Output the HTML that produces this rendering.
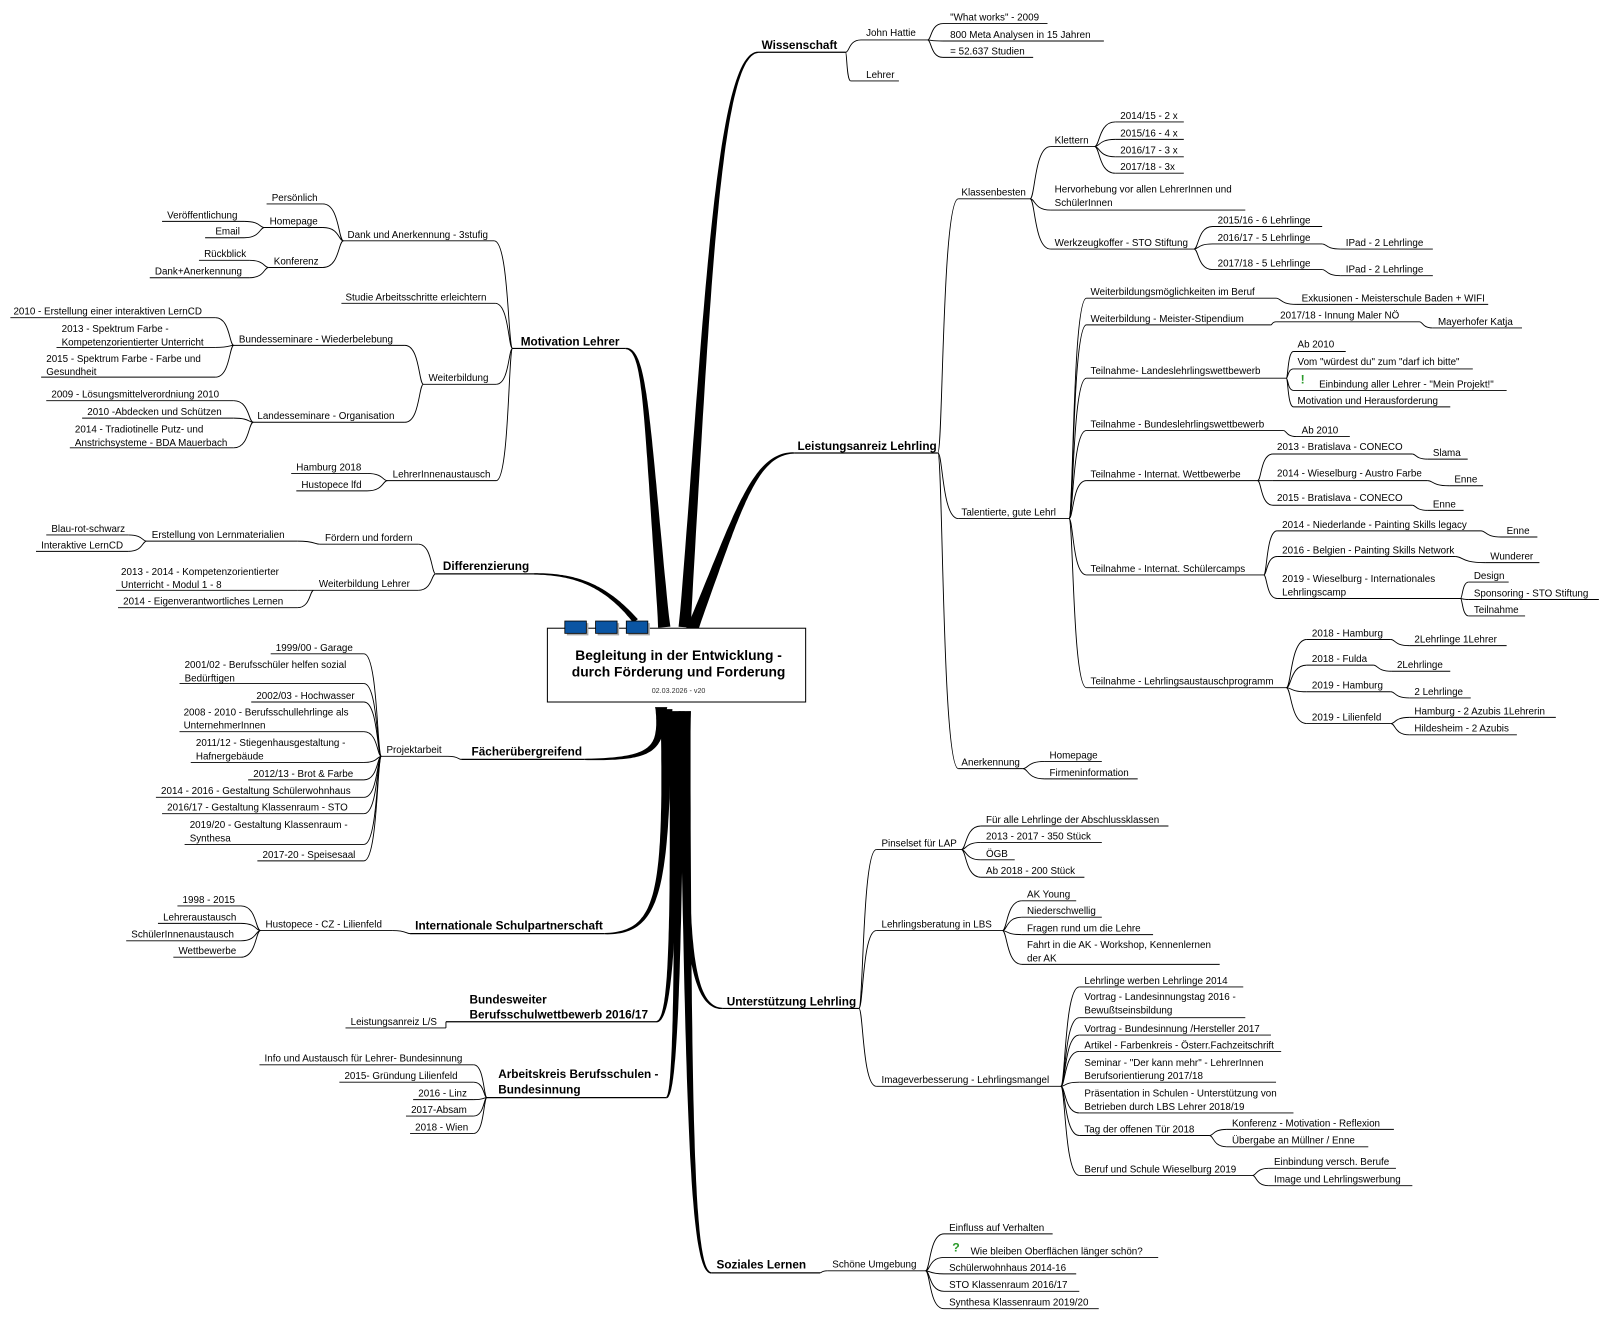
<!DOCTYPE html>
<html><head><meta charset="utf-8"><style>
html,body{margin:0;padding:0;background:#fff}
svg{display:block}
text{font-family:"Liberation Sans",Arial,sans-serif;fill:#000}
.n{font-size:9.6px}
.m{font-size:11.5px;font-weight:bold}
</style></head><body>
<svg id="s" width="1599" height="1321" viewBox="0 0 1560 1289" xmlns="http://www.w3.org/2000/svg">
<g id="br"></g><g id="ln" fill="none" stroke="#000" stroke-width="0.9"></g><g id="tx"></g>
<rect x="534" y="613" width="252" height="72" fill="#fff" stroke="#000" stroke-width="1"/>
<rect x="553" y="608" width="21" height="12" fill="#aaa"/><rect x="551" y="606" width="21" height="12" fill="#0b55a3" stroke="#000" stroke-width="0.8"/>
<rect x="583" y="608" width="21" height="12" fill="#aaa"/><rect x="581" y="606" width="21" height="12" fill="#0b55a3" stroke="#000" stroke-width="0.8"/>
<rect x="613" y="608" width="21" height="12" fill="#aaa"/><rect x="611" y="606" width="21" height="12" fill="#0b55a3" stroke="#000" stroke-width="0.8"/>
<text x="662" y="644" text-anchor="middle" style="font-size:13.5px;font-weight:bold">Begleitung in der Entwicklung -</text>
<text x="662" y="660" text-anchor="middle" style="font-size:13.5px;font-weight:bold">durch Förderung und Forderung</text>
<text x="662" y="676" text-anchor="middle" style="font-size:7px;fill:#333">02.03.2026 - v20</text>
<text x="1269" y="374" style="font-size:12px;font-weight:bold;fill:#2a9a2a">!</text>
<text x="929" y="1221" style="font-size:12px;font-weight:bold;fill:#2a9a2a">?</text>
</svg>
<script>
var N={};
// id,parent,text,tx,ty,x1,x2,uy,main
var D=[
["W",null,"Wissenschaft",743,48,740,825,51,1],
["LA",null,"Leistungsanreiz Lehrling",778,439,775,915,442,1],
["UL",null,"Unterstützung Lehrling",709,981,705,838,984,1],
["SL",null,"Soziales Lernen",699,1238,694,800,1242,1],
["ML",null,"Motivation Lehrer",508,337,500,610,340,1],
["DI",null,"Differenzierung",432,556,425,520,560,1],
["FU",null,"Fächerübergreifend",460,737,450,570,741,1],
["IS",null,"Internationale Schulpartnerschaft",405,907,400,590,911,1],
["BW",null,"Bundesweiter|Berufsschulwettbewerb 2016/17",458,979,435,640,997,1],
["AK",null,"Arbeitskreis Berufsschulen -|Bundesinnung",486,1052,475,650,1071,1],
["jh","W","John Hattie",845,35,840,905,39],
["w1","jh","\"What works\" - 2009",927,20,920,1022,23],
["w2","jh","800 Meta Analysen in 15 Jahren",927,37,920,1077,40],
["w3","jh","= 52.637 Studien",927,53,920,1008,56],
["le","W","Lehrer",845,76,830,877,79],
["kb","LA","Klassenbesten",938,191,935,1005,194],
["kl","kb","Klettern",1029,140,1025,1068,143],
["k1","kl","2014/15 - 2 x",1093,116,1088,1155,119],
["k2","kl","2015/16 - 4 x",1093,133,1088,1155,136],
["k3","kl","2016/17 - 3 x",1093,150,1088,1155,153],
["k4","kl","2017/18 - 3x",1093,166,1088,1155,169],
["hv","kb","Hervorhebung vor allen LehrerInnen und|SchülerInnen",1029,188,1025,1215,205],
["wk","kb","Werkzeugkoffer - STO Stiftung",1029,240,1025,1165,243],
["wk1","wk","2015/16 - 6 Lehrlinge",1188,218,1183,1290,221],
["wk2","wk","2016/17 - 5 Lehrlinge",1188,235,1183,1290,238],
["ip1","wk2","IPad - 2 Lehrlinge",1313,240,1308,1398,243],
["wk3","wk","2017/18 - 5 Lehrlinge",1188,260,1183,1290,263],
["ip2","wk3","IPad - 2 Lehrlinge",1313,266,1308,1398,269],
["tg","LA","Talentierte, gute Lehrl",938,503,935,1043,506],
["t1","tg","Weiterbildungsmöglichkeiten im Beruf",1064,288,1060,1245,291],
["t1a","t1","Exkusionen - Meisterschule Baden + WIFI",1270,294,1265,1452,297],
["t2","tg","Weiterbildung - Meister-Stipendium",1064,314,1060,1240,317],
["t2a","t2","2017/18 - Innung Maler NÖ",1249,311,1245,1385,314],
["t2b","t2a","Mayerhofer Katja",1403,317,1398,1485,320],
["t3","tg","Teilnahme- Landeslehrlingswettbewerb",1064,365,1060,1255,369],
["t3a","t3","Ab 2010",1266,339,1262,1313,343],
["t3b","t3","Vom \"würdest du\" zum \"darf ich bitte\"",1266,356,1262,1437,360],
["t3c","t3","Einbindung aller Lehrer - \"Mein Projekt!\"",1287,378,1262,1470,381],
["t3d","t3","Motivation und Herausforderung",1266,394,1262,1415,397],
["t4","tg","Teilnahme - Bundeslehrlingswettbewerb",1064,417,1060,1252,420],
["t4a","t4","Ab 2010",1270,423,1265,1317,426],
["t5","tg","Teilnahme - Internat. Wettbewerbe",1064,466,1060,1227,469],
["t5a","t5","2013 - Bratislava - CONECO",1246,439,1242,1378,443],
["t5a1","t5a","Slama",1398,445,1393,1432,448],
["t5b","t5","2014 - Wieselburg - Austro Farbe",1246,465,1242,1393,469],
["t5b1","t5b","Enne",1419,471,1414,1447,474],
["t5c","t5","2015 - Bratislava - CONECO",1246,489,1242,1378,493],
["t5c1","t5c","Enne",1398,495,1393,1428,498],
["t6","tg","Teilnahme - Internat. Schülercamps",1064,558,1060,1233,561],
["t6a","t6","2014 - Niederlande - Painting Skills legacy",1251,515,1246,1445,518],
["t6a1","t6a","Enne",1470,521,1465,1500,524],
["t6b","t6","2016 - Belgien - Painting Skills Network",1251,540,1246,1420,543],
["t6b1","t6b","Wunderer",1454,546,1449,1502,549],
["t6c","t6","2019 - Wieselburg - Internationales|Lehrlingscamp",1251,568,1246,1425,584],
["t6c1","t6c","Design",1438,565,1433,1472,568],
["t6c2","t6c","Sponsoring - STO Stiftung",1438,582,1433,1560,585],
["t6c3","t6c","Teilnahme",1438,598,1433,1488,601],
["t7","tg","Teilnahme - Lehrlingsaustauschprogramm",1064,668,1060,1255,671],
["t7a","t7","2018 - Hamburg",1280,621,1275,1357,624],
["t7a1","t7a","2Lehrlinge 1Lehrer",1380,627,1375,1470,630],
["t7b","t7","2018 - Fulda",1280,646,1275,1340,649],
["t7b1","t7b","2Lehrlinge",1363,652,1358,1415,655],
["t7c","t7","2019 - Hamburg",1280,672,1275,1357,675],
["t7c1","t7c","2 Lehrlinge",1380,678,1375,1435,681],
["t7d","t7","2019 - Lilienfeld",1280,703,1275,1357,706],
["t7d1","t7d","Hamburg - 2 Azubis 1Lehrerin",1380,697,1375,1518,700],
["t7d2","t7d","Hildesheim - 2 Azubis",1380,714,1375,1480,717],
["an","LA","Anerkennung",938,747,935,998,750],
["an1","an","Homepage",1024,740,1019,1075,743],
["an2","an","Firmeninformation",1024,757,1019,1110,760],
["ps","UL","Pinselset für LAP",860,826,855,938,829],
["ps1","ps","Für alle Lehrlinge der Abschlussklassen",962,803,957,1140,806],
["ps2","ps","2013 - 2017 - 350 Stück",962,819,957,1075,822],
["ps3","ps","ÖGB",962,836,957,990,839],
["ps4","ps","Ab 2018 - 200 Stück",962,853,957,1058,856],
["lb","UL","Lehrlingsberatung in LBS",860,905,855,978,908],
["lb1","lb","AK Young",1002,876,997,1050,879],
["lb2","lb","Niederschwellig",1002,892,997,1075,895],
["lb3","lb","Fragen rund um die Lehre",1002,909,997,1125,912],
["lb4","lb","Fahrt in die AK - Workshop, Kennenlernen|der AK",1002,925,997,1190,941],
["iv","UL","Imageverbesserung - Lehrlingsmangel",860,1057,855,1035,1060],
["iv1","iv","Lehrlinge werben Lehrlinge 2014",1058,960,1053,1213,963],
["iv2","iv","Vortrag - Landesinnungstag 2016 -|Bewußtseinsbildung",1058,976,1053,1215,993],
["iv3","iv","Vortrag - Bundesinnung /Hersteller 2017",1058,1007,1053,1240,1010],
["iv4","iv","Artikel - Farbenkreis - Österr.Fachzeitschrift",1058,1023,1053,1250,1026],
["iv5","iv","Seminar - \"Der kann mehr\" - LehrerInnen|Berufsorientierung 2017/18",1058,1040,1053,1245,1056],
["iv6","iv","Präsentation in Schulen - Unterstützung von|Betrieben durch LBS Lehrer 2018/19",1058,1070,1053,1262,1086],
["iv7","iv","Tag der offenen Tür 2018",1058,1105,1053,1180,1108],
["iv7a","iv7","Konferenz - Motivation - Reflexion",1202,1099,1197,1360,1102],
["iv7b","iv7","Übergabe an Müllner / Enne",1202,1116,1197,1335,1119],
["iv8","iv","Beruf und Schule Wieselburg 2019",1058,1144,1053,1222,1147],
["iv8a","iv8","Einbindung versch. Berufe",1243,1137,1238,1362,1140],
["iv8b","iv8","Image und Lehrlingswerbung",1243,1154,1238,1378,1157],
["su","SL","Schöne Umgebung",812,1237,807,903,1240],
["su1","su","Einfluss auf Verhalten",926,1201,921,1027,1204],
["su2","su","Wie bleiben Oberflächen länger schön?",947,1224,921,1130,1227],
["su3","su","Schülerwohnhaus 2014-16",926,1240,921,1050,1243],
["su4","su","STO Klassenraum 2016/17",926,1257,921,1053,1260],
["su5","su","Synthesa Klassenraum 2019/20",926,1274,921,1072,1277],
["da","ML","Dank und Anerkennung - 3stufig",339,232,335,482,235],
["pe","da","Persönlich",265,196,260,315,199],
["hp","da","Homepage",263,219,258,315,222],
["hp1","hp","Veröffentlichung",163,213,158,238,216],
["hp2","hp","Email",210,229,200,238,232],
["ko","da","Konferenz",267,258,262,315,261],
["ko1","ko","Rückblick",199,251,194,243,254],
["ko2","ko","Dank+Anerkennung",151,268,146,243,271],
["st","ML","Studie Arbeitsschritte erleichtern",337,293,333,483,296],
["wb","ML","Weiterbildung",418,372,413,484,375],
["bs","wb","Bundesseminare - Wiederbelebung",233,334,228,395,337],
["bs1","bs","2010 - Erstellung einer interaktiven LernCD",13,307,10,210,310],
["bs2","bs","2013 - Spektrum Farbe -|Kompetenzorientierter Unterricht",60,324,55,210,339],
["bs3","bs","2015 - Spektrum Farbe - Farbe und|Gesundheit",45,353,40,210,368],
["ls","wb","Landesseminare - Organisation",251,409,247,395,412],
["ls1","ls","2009 - Lösungsmittelverordniung 2010",50,388,45,228,391],
["ls2","ls","2010 -Abdecken und Schützen",85,405,80,228,408],
["ls3","ls","2014 - Tradiotinelle Putz- und|Anstrichsysteme - BDA Mauerbach",73,422,68,228,437],
["la","ML","LehrerInnenaustausch",383,466,378,484,469],
["la1","la","Hamburg 2018",289,459,284,358,462],
["la2","la","Hustopece lfd",294,476,289,358,479],
["ff","DI","Fördern und fordern",317,528,312,408,531],
["ff1","ff","Erstellung von Lernmaterialien",148,525,143,290,528],
["ff1a","ff1","Blau-rot-schwarz",50,519,45,125,522],
["ff1b","ff1","Interaktive LernCD",40,535,35,125,538],
["wl","DI","Weiterbildung Lehrer",311,573,306,408,576],
["wl1","wl","2013 - 2014 - Kompetenzorientierter|Unterricht - Modul 1 - 8",118,561,113,290,576],
["wl2","wl","2014 - Eigenverantwortliches Lernen",120,590,115,290,593],
["pa","FU","Projektarbeit",377,735,372,437,738],
["p1","pa","1999/00 - Garage",269,635,264,355,638],
["p2","pa","2001/02 - Berufsschüler helfen sozial|Bedürftigen",180,652,175,355,667],
["p3","pa","2002/03 - Hochwasser",250,682,245,355,685],
["p4","pa","2008 - 2010 - Berufsschullehrlinge als|UnternehmerInnen",179,698,175,355,714],
["p5","pa","2011/12 - Stiegenhausgestaltung -|Hafnergebäude",191,728,186,355,744],
["p6","pa","2012/13 - Brot & Farbe",247,758,242,355,761],
["p7","pa","2014 - 2016 - Gestaltung Schülerwohnhaus",157,775,152,355,778],
["p8","pa","2016/17 - Gestaltung Klassenraum - STO",163,791,158,355,794],
["p9","pa","2019/20 - Gestaltung Klassenraum -|Synthesa",185,808,180,355,824],
["p10","pa","2017-20 - Speisesaal",256,837,251,355,840],
["hu","IS","Hustopece - CZ - Lilienfeld",259,905,254,383,908],
["hu1","hu","1998 - 2015",178,881,173,235,884],
["hu2","hu","Lehreraustausch",159,898,154,235,901],
["hu3","hu","SchülerInnenaustausch",128,915,123,235,918],
["hu4","hu","Wettbewerbe",174,931,169,235,934],
["bw1","BW","Leistungsanreiz L/S",342,1000,337,435,1003],
["ak1","AK","Info und Austausch für Lehrer- Bundesinnung",258,1036,253,462,1039],
["ak2","AK","2015-  Gründung Lilienfeld",336,1053,331,462,1056],
["ak3","AK","2016 - Linz",408,1070,403,462,1073],
["ak4","AK","2017-Absam",401,1086,396,462,1089],
["ak5","AK","2018 - Wien",405,1103,400,462,1106]
];
var NS="http://www.w3.org/2000/svg";
function el(g,t,a,txt){var e=document.createElementNS(NS,t);for(var k in a)e.setAttribute(k,a[k]);if(txt!=null)e.textContent=txt;document.getElementById(g).appendChild(e);return e;}
// main branch origins
var O={W:[668,612],LA:[675,615],ML:[648,612],DI:[620,606],FU:[645,690],IS:[650,692],BW:[658,694],AK:[662,694],UL:[668,694],SL:[668,694]};
function bez(p0,p1,p2,p3,t){var u=1-t;return [u*u*u*p0[0]+3*u*u*t*p1[0]+3*u*t*t*p2[0]+t*t*t*p3[0],u*u*u*p0[1]+3*u*u*t*p1[1]+3*u*t*t*p2[1]+t*t*t*p3[1]];}
function taper(p0,p1,p2,p3,w0,w1){var L=[],R=[],n=60;for(var i=0;i<=n;i++){var t=i/n,a=bez(p0,p1,p2,p3,Math.max(0,t-0.01)),b=bez(p0,p1,p2,p3,Math.min(1,t+0.01)),c=bez(p0,p1,p2,p3,t);var dx=b[0]-a[0],dy=b[1]-a[1],l=Math.hypot(dx,dy)||1;var w=(w0+(w1-w0)*Math.pow(t,0.6))/2;L.push((c[0]-dy/l*w).toFixed(1)+","+(c[1]+dx/l*w).toFixed(1));R.unshift((c[0]+dy/l*w).toFixed(1)+","+(c[1]-dx/l*w).toFixed(1));}
el("br","polygon",{points:L.concat(R).join(" "),fill:"#000"});}
D.forEach(function(d){
 var o={id:d[0],p:d[1],t:d[2],tx:d[3],ty:d[4],x1:d[5],x2:d[6],uy:d[7],m:d[8]};N[o.id]=o;
 var lines=o.t.split("|");
 lines.forEach(function(s,i){el("tx","text",{x:o.tx,y:o.ty+i*(o.m?15:13),"class":o.m?"m":"n"},s);});
 el("ln","line",{x1:o.x1,y1:o.uy,x2:o.x2,y2:o.uy,"stroke-width":o.m?1.2:0.9});
 if(o.p){var P=N[o.p];var right=o.x1>P.x1;var px=right?P.x2:P.x1,py=P.uy,cx=right?o.x1:o.x2,cy=o.uy;var mx=(px+cx)/2;
  el("ln","path",{d:"M"+px+","+py+" C"+(px+(cx-px)*0.25)+","+py+" "+(px+(cx-px)*0.2)+","+cy+" "+cx+","+cy});}
 else{var s=O[o.id];var right=o.x1>640;var ex=right?o.x1:o.x2,ey=o.uy;
  var c1,c2;
  if(o.id=="W"){c1=[690,300];c2=[700,51];}
  else if(o.id=="LA"){c1=[720,500];c2=[735,442];}
  else if(o.id=="ML"){c1=[630,400];c2=[630,340];}
  else if(o.id=="DI"){c1=[590,570];c2=[560,560];}
  else if(o.id=="SL"){c1=[672,1100];c2=[675,1242];}
  else if(o.id=="UL"){c1=[668,900];c2=[670,984];}
  else {c1=[s[0],(s[1]+ey)/2+ (ey-s[1])*0.3];c2=[s[0]-5,ey];}
  taper(s,c1,c2,[ex,ey],o.id=="DI"?6:12,1.3);}
});
</script>
</body></html>
